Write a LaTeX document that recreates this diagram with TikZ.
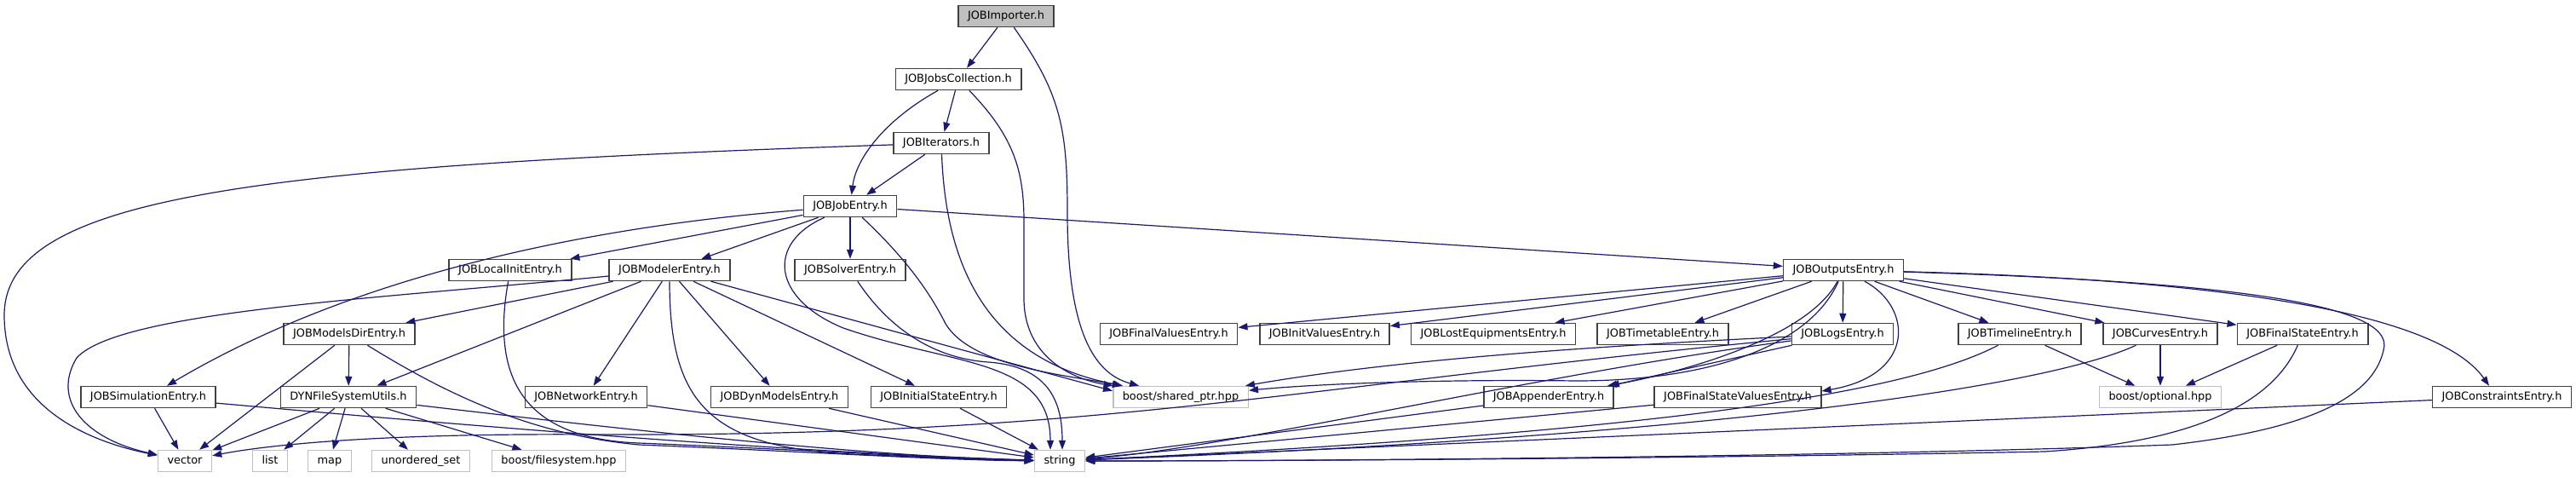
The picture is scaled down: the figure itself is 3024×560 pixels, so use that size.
\documentclass[tikz,border=0pt]{standalone}
\usepackage{fontspec}
\setmainfont{DejaVu Sans}
\usetikzlibrary{arrows.meta}
\definecolor{edgeblue}{RGB}{25,25,112}
\definecolor{boxgray}{RGB}{64,64,64}
\definecolor{sysgray}{RGB}{191,191,191}
\begin{document}
\begin{tikzpicture}[x=1pt,y=-1pt,
    hdr/.style={draw=boxgray,line width=1.5pt,fill=white,inner xsep=11pt,inner ysep=0pt,
      minimum height=25pt,text height=9.6pt,text depth=2.8pt,font=\fontsize{12.9}{15}\selectfont},
    sys/.style={hdr,draw=sysgray},
    topfile/.style={hdr,fill=sysgray},
    dep/.style={draw=edgeblue,line width=1.2pt,-{Triangle[length=11pt,width=8pt]}}]
    \useasboundingbox (0,0) rectangle (3024,560);
    % headers
    \node[topfile] (imp) at (1181,19) {JOBImporter.h};
    \node[hdr] (coll) at (1125,93) {JOBJobsCollection.h};
    \node[hdr] (iter) at (1105,168) {JOBIterators.h};
    \node[hdr] (jobentry) at (998,242) {JOBJobEntry.h};
    \node[hdr] (localinit) at (599,317) {JOBLocalInitEntry.h};
    \node[hdr] (modeler) at (786,317) {JOBModelerEntry.h};
    \node[hdr] (solver) at (998,317) {JOBSolverEntry.h};
    \node[hdr] (outputs) at (2164,317) {JOBOutputsEntry.h};
    \node[hdr] (modelsdir) at (410,392) {JOBModelsDirEntry.h};
    \node[hdr] (finalvalues) at (1372,392) {JOBFinalValuesEntry.h};
    \node[hdr] (initvalues) at (1555,392) {JOBInitValuesEntry.h};
    \node[hdr] (lostequip) at (1753,392) {JOBLostEquipmentsEntry.h};
    \node[hdr] (timetable) at (1952,392) {JOBTimetableEntry.h};
    \node[hdr] (logs) at (2163,392) {JOBLogsEntry.h};
    \node[hdr] (timeline) at (2371,392) {JOBTimelineEntry.h};
    \node[hdr] (curves) at (2536,392) {JOBCurvesEntry.h};
    \node[hdr] (finalstate) at (2703,392) {JOBFinalStateEntry.h};
    \node[hdr] (simulation) at (174,466) {JOBSimulationEntry.h};
    \node[hdr] (dynfs) at (409,466) {DYNFileSystemUtils.h};
    \node[hdr] (network) at (688,466) {JOBNetworkEntry.h};
    \node[hdr] (dynmodels) at (915,466) {JOBDynModelsEntry.h};
    \node[hdr] (initstate) at (1102,466) {JOBInitialStateEntry.h};
    \node[sys] (sharedptr) at (1386,466) {boost/shared\_ptr.hpp};
    \node[hdr] (appender) at (1818,466) {JOBAppenderEntry.h};
    \node[hdr] (fsvalues) at (2040,466) {JOBFinalStateValuesEntry.h};
    \node[sys] (optional) at (2536,466) {boost/optional.hpp};
    \node[hdr] (constraints) at (2937,466) {JOBConstraintsEntry.h};
    \node[sys] (vector) at (217,541) {vector};
    \node[sys] (list) at (317,541) {list};
    \node[sys] (map) at (387,541) {map};
    \node[sys] (uset) at (494,541) {unordered\_set};
    \node[sys] (filesystem) at (656,541) {boost/filesystem.hpp};
    \node[sys] (string) at (1244,541) {string};
    % top part
    \draw[dep] (imp) -- (coll);
    \draw[dep] (imp) .. controls (1245,110) and (1253,150) .. (1253,250) .. controls (1253,400) and (1290,440) .. (sharedptr);
    \draw[dep] (coll) -- (iter);
    \draw[dep] (coll) .. controls (1040,140) and (1005,185) .. (jobentry);
    \draw[dep] (coll) .. controls (1190,160) and (1202,200) .. (1202,260) -- (1202,350) .. controls (1202,420) and (1260,445) .. (sharedptr);
    \draw[dep] (iter) -- (jobentry);
    \draw[dep] (iter) .. controls (1110,300) and (1150,420) .. (sharedptr);
    \draw[dep] (iter) .. controls (300,195) and (5,230) .. (5,370) .. controls (5,470) and (90,515) .. (vector);
    % JOBJobEntry.h
    \draw[dep] (jobentry) .. controls (700,265) and (420,320) .. ([xshift=22pt]simulation.north);
    \draw[dep] (jobentry) -- (localinit);
    \draw[dep] (jobentry) -- (modeler);
    \draw[dep] (jobentry) -- (solver);
    \draw[dep] (jobentry) -- (outputs);
    \draw[dep] (jobentry) .. controls (900,285) and (905,350) .. (990,385) .. controls (1120,430) and (1233,420) .. ([xshift=-11pt]string.north);
    \draw[dep] (jobentry) .. controls (1060,300) and (1090,340) .. (1110,380) .. controls (1140,430) and (1250,440) .. (sharedptr);
    \draw[dep] (solver) .. controls (1040,380) and (1090,420) .. (1160,425) .. controls (1230,430) and (1247,470) .. ([xshift=3pt]string.north);
    \draw[dep] (localinit) .. controls (575,450) and (620,515) .. (750,520) .. controls (950,528) and (1100,538) .. (string);
    % JOBModelerEntry.h
    \draw[dep] (modeler) .. controls (450,350) and (140,365) .. (90,420) .. controls (60,470) and (100,515) .. (vector);
    \draw[dep] (modeler) -- (modelsdir);
    \draw[dep] (modeler) -- (dynfs);
    \draw[dep] (modeler) -- (network);
    \draw[dep] (modeler) .. controls (786,470) and (830,525) .. (1000,533) .. controls (1100,537) and (1150,540) .. (string);
    \draw[dep] (modeler) -- (dynmodels);
    \draw[dep] (modeler) -- (initstate);
    \draw[dep] (modeler) -- ([yshift=-6pt]sharedptr.north west);
    \draw[dep] (modelsdir) -- (vector);
    \draw[dep] (modelsdir) -- (dynfs);
    \draw[dep] (modelsdir) .. controls (520,460) and (620,510) .. (750,522) .. controls (950,530) and (1100,540) .. (string);
    \draw[dep] (simulation) -- (vector);
    \draw[dep] (simulation) .. controls (500,495) and (900,530) .. (string);
    \draw[dep] (dynfs) -- (vector);
    \draw[dep] (dynfs) -- (list);
    \draw[dep] (dynfs) -- (map);
    \draw[dep] (dynfs) -- (uset);
    \draw[dep] (dynfs) -- (filesystem);
    \draw[dep] (dynfs) .. controls (700,500) and (1000,535) .. (string);
    \draw[dep] (network) -- (string);
    \draw[dep] (dynmodels) -- (string);
    \draw[dep] (initstate) -- (string);
    % JOBOutputsEntry.h
    \draw[dep] (outputs) -- (finalvalues);
    \draw[dep] (outputs) -- (initvalues);
    \draw[dep] (outputs) -- (lostequip);
    \draw[dep] (outputs) -- (timetable);
    \draw[dep] (outputs) -- (logs);
    \draw[dep] (outputs) -- (timeline);
    \draw[dep] (outputs) -- (curves);
    \draw[dep] (outputs) -- (finalstate);
    \draw[dep] (outputs) .. controls (2245,360) and (2250,440) .. ([yshift=7pt]fsvalues.east);
    \draw[dep] (outputs) .. controls (2120,400) and (1960,440) .. ([xshift=-8pt]appender.north east);
    \draw[dep] (outputs) .. controls (2125,405) and (2010,447) .. (1850,447) .. controls (1700,445) and (1550,450) .. (sharedptr);
    \draw[dep] (outputs) .. controls (2600,330) and (2815,355) .. (2798,411) .. controls (2785,470) and (2700,505) .. (2550,522) .. controls (2200,535) and (1600,541) .. (string);
    \draw[dep] (outputs) .. controls (2600,328) and (2860,365) .. ([xshift=-15pt]constraints.north);
    \draw[dep] (logs) .. controls (1900,405) and (1650,420) .. (sharedptr);
    \draw[dep] (logs) -- ([xshift=-5pt]appender.north east);
    \draw[dep] (logs) .. controls (1500,455) and (1300,512) .. (700,510) .. controls (420,508) and (300,525) .. (vector);
    \draw[dep] (logs) .. controls (1800,440) and (1450,525) .. (string);
    \draw[dep] (appender) -- (string);
    \draw[dep] (fsvalues) -- (string);
    \draw[dep] (timeline) -- (optional);
    \draw[dep] (timeline) .. controls (2250,455) and (2000,505) .. (string);
    \draw[dep] (curves) -- (optional);
    \draw[dep] (curves) .. controls (2400,455) and (2000,512) .. (string);
    \draw[dep] (finalstate) -- (optional);
    \draw[dep] (finalstate) .. controls (2665,480) and (2560,520) .. (2400,530) .. controls (2000,538) and (1500,541) .. (string);
    \draw[dep] (constraints) -- (string);
\end{tikzpicture}
\end{document}
